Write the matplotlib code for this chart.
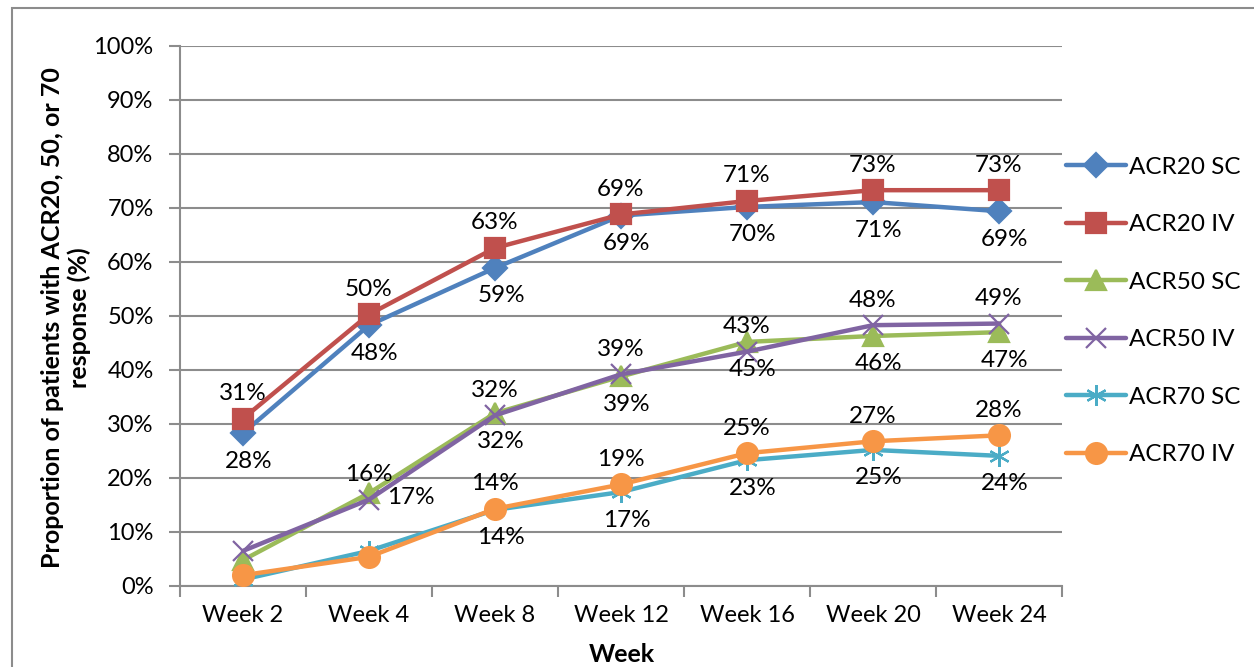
"""
ACR20/50/70 response over time, SC vs IV dosing.
"""

import matplotlib

matplotlib.use("Agg")

import matplotlib.pyplot as plt
from matplotlib.patches import Rectangle
from matplotlib.ticker import FixedLocator, PercentFormatter

plt.rcParams["font.family"] = ["Lato", "DejaVu Sans"]

# Data (percent of patients)
weeks = ["Week 2", "Week 4", "Week 8", "Week 12", "Week 16", "Week 20", "Week 24"]
acr20_sc = [28.3, 48.3, 58.9, 68.6, 70.2, 71.1, 69.4]
acr20_iv = [31.0, 50.3, 62.6, 68.8, 71.3, 73.3, 73.3]
acr50_sc = [4.8, 17.2, 32.0, 38.8, 45.2, 46.3, 47.0]
acr50_iv = [6.5, 16.0, 31.6, 39.2, 43.4, 48.3, 48.6]
acr70_sc = [1.2, 6.5, 14.1, 17.4, 23.3, 25.2, 24.1]
acr70_iv = [2.0, 5.4, 14.3, 18.8, 24.6, 26.8, 27.9]

# Label placement per point: "a" above, "b" below, "r" right, None = no label
pos_20_sc = ["b", "b", "b", "b", "b", "b", "b"]
pos_20_iv = ["a", "a", "a", "a", "a", "a", "a"]
pos_50_sc = [None, "r", "b", "b", "b", "b", "b"]
pos_50_iv = [None, "a", "a", "a", "a", "a", "a"]
pos_70_sc = [None, None, "b", "b", "b", "b", "b"]
pos_70_iv = [None, None, "a", "a", "a", "a", "a"]

series = [
    ("ACR20 SC", acr20_sc, pos_20_sc, "#4F81BD", "D", 12),
    ("ACR20 IV", acr20_iv, pos_20_iv, "#C0504D", "s", 14),
    ("ACR50 SC", acr50_sc, pos_50_sc, "#9BBB59", "^", 14),
    ("ACR50 IV", acr50_iv, pos_50_iv, "#8064A2", "x", 14),
    ("ACR70 SC", acr70_sc, pos_70_sc, "#4BACC6", (6, 2, 0), 15),
    ("ACR70 IV", acr70_iv, pos_70_iv, "#F79646", "o", 15),
]

GRID = "#8C8C8C"

fig = plt.figure(figsize=(12.54, 6.67), dpi=100)
ax = fig.add_axes([180 / 1254, 1 - 586 / 667, 882 / 1254, 540 / 667])

x = list(range(len(weeks)))
offsets = {"a": (0, 25), "b": (6, -28), "r": (42, -4)}

for name, vals, pos, color, marker, ms in series:
    ax.plot(x, vals, color=color, lw=3.2, marker=marker, ms=ms,
            mec=color, mew=1.6, label=name, solid_capstyle="round", zorder=3)
    for xi, v, p in zip(x, vals, pos):
        if p is None:
            continue
        ax.annotate(f"{v:.0f}%", (xi, v), xytext=offsets[p],
                    textcoords="offset pixels", ha="center", va="center",
                    fontsize=17.5, color="black", zorder=5)

ax.set_xlim(-0.5, len(weeks) - 0.5)
ax.set_ylim(0, 100)
ax.yaxis.set_major_locator(FixedLocator(range(0, 101, 10)))
ax.yaxis.set_major_formatter(PercentFormatter(decimals=0))
ax.grid(axis="y", color=GRID, lw=1.5)
ax.set_axisbelow(True)

ax.set_xticks(x)
ax.set_xticklabels(weeks)
ax.set_xticks([i - 0.5 for i in range(len(weeks) + 1)], minor=True)
ax.tick_params(axis="x", which="major", length=0, pad=14, labelsize=17)
ax.tick_params(axis="x", which="minor", length=8, color=GRID, width=1.5)
ax.tick_params(axis="y", length=8, color=GRID, width=1.5, pad=11,
               labelsize=17)

for side in ("top", "right"):
    ax.spines[side].set_visible(False)
for side in ("left", "bottom"):
    ax.spines[side].set_color(GRID)
    ax.spines[side].set_linewidth(1.5)

fig.text(66 / 1254, 1 - 318 / 667,
         "Proportion of patients with ACR20, 50, or 70\nresponse (%)",
         rotation=90, ha="center", va="center", ma="center",
         fontsize=18, fontweight="bold", linespacing=1.15)
fig.text(622 / 1254, 1 - 655 / 667, "Week", ha="center", va="center",
         fontsize=18, fontweight="bold")

fig.legend(loc="center left", bbox_to_anchor=(1066 / 1254, 1 - 311 / 667),
           frameon=False, fontsize=17.5, labelspacing=1.5, handlelength=2.45,
           handletextpad=0.15, borderpad=0, borderaxespad=0)

fig.patches.append(Rectangle((12 / 1254, -0.1), 1.5, 1.1 - 8 / 667,
                             transform=fig.transFigure, fill=False,
                             ec=GRID, lw=1.5))

fig.savefig("out.png", dpi=100)
